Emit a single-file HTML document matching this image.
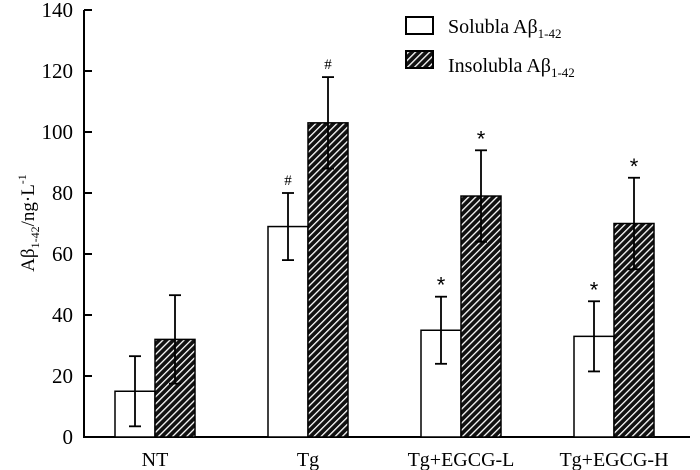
<!DOCTYPE html>
<html><head><meta charset="utf-8"><style>
body{margin:0;background:#fff}
svg{display:block;font-family:"Liberation Serif",serif}
</style></head><body>
<svg id="chart" width="700" height="470" viewBox="0 0 700 470">
<defs>
<pattern id="hatch" width="5" height="5" patternUnits="userSpaceOnUse" patternTransform="rotate(45)">
<rect width="5" height="5" fill="#111"/>
<rect x="0" y="0" width="1.3" height="5" fill="#fff"/>
</pattern>
</defs>
<g id="axes"></g>
<g id="bars"></g>
<g>
<rect x="406" y="17" width="27" height="17" fill="#fff" stroke="#000" stroke-width="2"/>
<text x="448" y="33" font-size="20">Solubla Aβ<tspan font-size="13" dy="5">1-42</tspan></text>
<rect x="406" y="51" width="27" height="17" fill="url(#hatch)" stroke="#000" stroke-width="2"/>
<text x="448" y="72" font-size="20">Insolubla Aβ<tspan font-size="13" dy="5">1-42</tspan></text>
</g>
<text transform="translate(34,223) rotate(-90)" text-anchor="middle" font-size="19">Aβ<tspan font-size="12" dy="5">1-42</tspan><tspan dy="-5">/ng·L</tspan><tspan font-size="12" dy="-8">-1</tspan></text>
</svg>
<script>
const categories=["NT","Tg","Tg+EGCG-L","Tg+EGCG-H"];
const soluble=[15,69,35,33];
const solubleErr=[11.5,11,11,11.5];
const insoluble=[32,103,79,70];
const insolubleErr=[14.5,15,15,15];
const solubleMarks=["","#","*","*"];
const insolubleMarks=["","#","*","*"];
const yTicks=[0,20,40,60,80,100,120,140];

const NS="http://www.w3.org/2000/svg";
const y0=437,yTop=10,yMax=140;
const Y=v=>y0-(v/yMax)*(y0-yTop);
const X=i=>115+i*153;
const BW=40;
function mk(tag,attrs,parent){const e=document.createElementNS(NS,tag);for(const k in attrs)e.setAttribute(k,attrs[k]);parent.appendChild(e);return e;}
const axes=document.getElementById('axes'),bars=document.getElementById('bars');
let e=mk('line',{x1:84,y1:Y(0),x2:84,y2:Y(140),stroke:'#000','stroke-width':2},axes);


e=mk('line',{x1:83,y1:Y(0),x2:690,y2:Y(0),stroke:'#000','stroke-width':2},axes);


yTicks.forEach(t=>{
 let l=mk('line',{x1:84,y1:Y(t),x2:92,y2:Y(t),stroke:'#000','stroke-width':2},axes);
 
 
 let tx=mk('text',{x:73,y:Y(t)+7,'text-anchor':'end','font-size':21},axes);
 tx.textContent=t;
 
 
});
function bar(x,v,err,fill,mark,name){
 let r=mk('rect',{x:x,y:Y(v),width:BW,height:Y(0)-Y(v),fill:fill,stroke:'#000','stroke-width':1.5},bars);
 
 
 const cx=x+BW/2;
 let g=mk('g',{stroke:'#000','stroke-width':1.8},bars);
 
 
 mk('line',{x1:cx,y1:Y(v-err),x2:cx,y2:Y(v+err)},g);
 mk('line',{x1:cx-6,y1:Y(v+err),x2:cx+6,y2:Y(v+err)},g);
 mk('line',{x1:cx-6,y1:Y(v-err),x2:cx+6,y2:Y(v-err)},g);
 if(mark){
  let m=mk('text',{x:cx,y:Y(v+err)-(mark=='*'?4:8),'text-anchor':'middle','font-size':mark=='*'?22:15,'font-family':mark=='*'?'Liberation Sans, sans-serif':'Liberation Serif, serif'},bars);
  m.textContent=mark;
  
  
 }
}
categories.forEach((c,i)=>{
 bar(X(i),soluble[i],solubleErr[i],'#fff',solubleMarks[i],'bar-soluble');
 bar(X(i)+BW,insoluble[i],insolubleErr[i],'url(#hatch)',insolubleMarks[i],'bar-insoluble');
 let t=mk('text',{x:X(i)+BW,y:466,'text-anchor':'middle','font-size':20},axes);
 t.textContent=c;
 
 
});
</script>
</body></html>
